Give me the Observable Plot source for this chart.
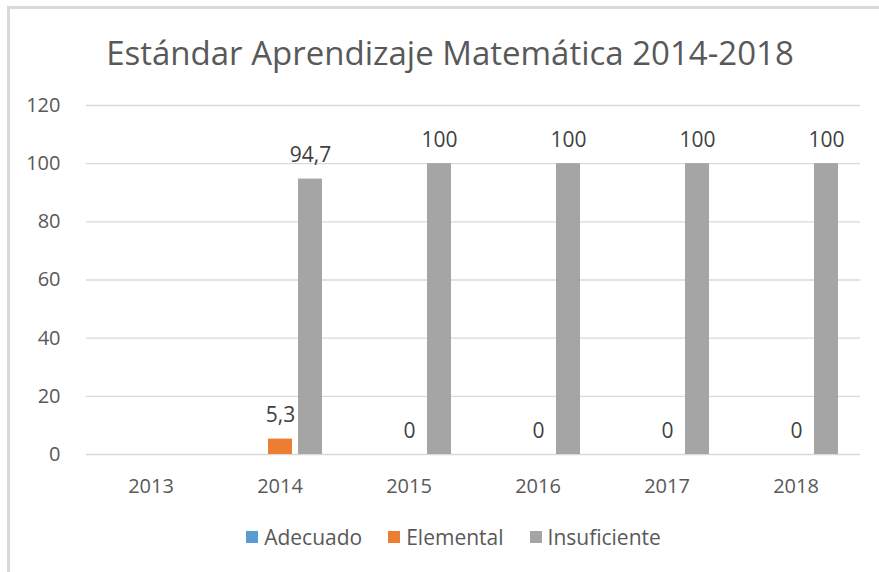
<!DOCTYPE html>
<html>
<head>
<meta charset="utf-8">
<script src="https://cdn.jsdelivr.net/npm/d3@7"></script>
<script src="https://cdn.jsdelivr.net/npm/@observablehq/plot@0.6"></script>
<style>
  html, body { margin: 0; padding: 0; background: #fff; }
  #wrap { position: relative; width: 879px; height: 572px; overflow: hidden; font-family: "Open Sans", sans-serif; }
  #frame { position: absolute; left: 7px; top: 6px; right: 0; bottom: 0; border-top: 3px solid #d9d9d9; border-left: 3px solid #d9d9d9; }
  #title { position: absolute; left: 450px; top: 30px; transform: translateX(-50%); white-space: nowrap; font-size: 33px; color: #595959; }
  #chart { position: absolute; left: 0; top: 80px; }
  #legend { position: absolute; left: 0; top: 523px; width: 879px; height: 28px; display: flex; justify-content: center; align-items: center; font-size: 21px; color: #595959; padding-left: 28px; box-sizing: border-box; }
  .item { display: flex; align-items: center; margin: 0 13px; }
  .sw { width: 12px; height: 12px; margin-right: 6px; }
</style>
</head>
<body>
<div id="wrap">
  <div id="frame"></div>
  <div id="title">Estándar Aprendizaje Matemática 2014-2018</div>
  <div id="chart"></div>
  <div id="legend"></div>
</div>
<script>
const years = ["2013", "2014", "2015", "2016", "2017", "2018"];
const seriesNames = ["Adecuado", "Elemental", "Insuficiente"];
const seriesColors = ["#5B9BD5", "#ED7D31", "#A5A5A5"];
const adecuado = [null, null, null, null, null, null];
const elemental = [null, 5.3, 0, 0, 0, 0];
const insuficiente = [null, 94.7, 100, 100, 100, 100];
const yTicks = [0, 20, 40, 60, 80, 100, 120];

const valuesBySeries = [adecuado, elemental, insuficiente];
const rows = [];
years.forEach((yr, i) => {
  seriesNames.forEach((s, j) => {
    rows.push({year: yr, series: s, value: valuesBySeries[j][i]});
  });
});
const labelled = rows.filter(d => d.value !== null && d.value !== undefined);
const gridRows = [];
years.forEach(yr => yTicks.forEach(t => gridRows.push({year: yr, tick: t})));
const fmt = v => String(v).replace(".", ",");

const chart = Plot.plot({
  width: 879,
  height: 430,
  marginLeft: 84,
  marginRight: 17,
  marginTop: 25,
  marginBottom: 56,
  style: {fontFamily: "Open Sans, sans-serif", fontSize: "20px", color: "#595959", background: "transparent"},
  fx: {domain: years, padding: 0, axis: "bottom", label: null, tickSize: 0, tickPadding: 24},
  x: {domain: seriesNames, axis: null, paddingInner: 0.2, paddingOuter: 0.74},
  y: {domain: [0, 120], ticks: yTicks, label: null, tickSize: 0, tickPadding: 26},
  color: {domain: seriesNames, range: seriesColors},
  marks: [
    Plot.ruleY(gridRows, {fx: "year", y: "tick", stroke: "#d9d9d9", strokeWidth: 1.3}),
    Plot.barY(rows, {fx: "year", x: "series", y: "value", fill: "series"}),
    Plot.text(labelled, {fx: "year", x: "series", y: "value", text: d => fmt(d.value), lineAnchor: "bottom", dy: -17, fill: "#404040", fontSize: 21})
  ]
});
document.getElementById("chart").appendChild(chart);

const legend = document.getElementById("legend");
seriesNames.forEach((s, i) => {
  const item = document.createElement("div");
  item.className = "item";
  const sw = document.createElement("div");
  sw.className = "sw";
  sw.style.background = seriesColors[i];
  const label = document.createElement("span");
  label.textContent = s;
  item.appendChild(sw);
  item.appendChild(label);
  legend.appendChild(item);
});
</script>
</body>
</html>
